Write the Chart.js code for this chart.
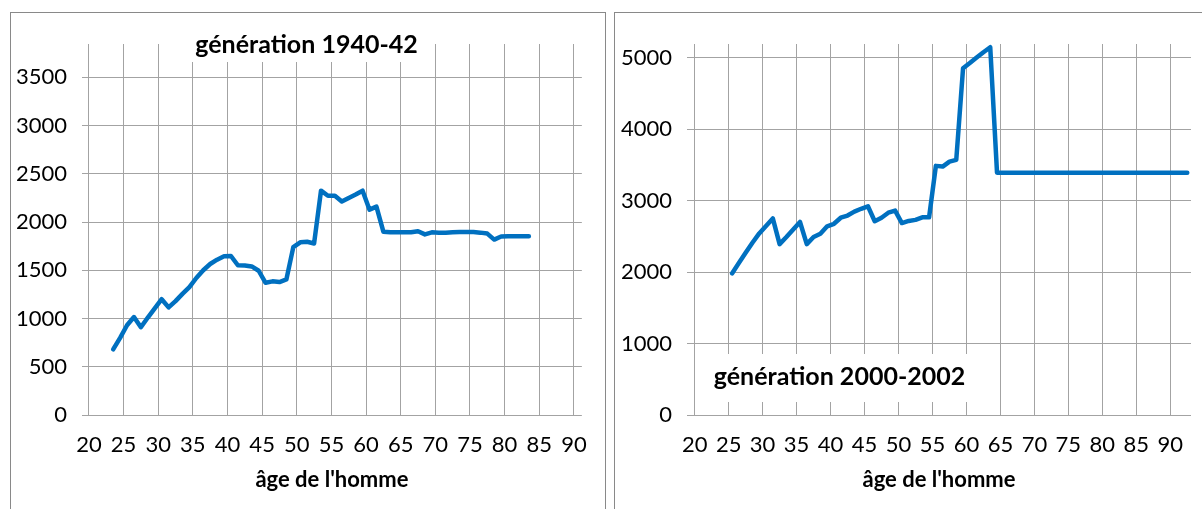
<!DOCTYPE html>
<html>
<head>
<meta charset="utf-8">
<script src="https://cdn.jsdelivr.net/npm/chart.js@4/dist/chart.umd.min.js"></script>
<style>
  html, body { margin: 0; padding: 0; background: #ffffff; overflow: hidden; }
  body { width: 1202px; height: 509px; position: relative; }
  .panel { position: absolute; box-sizing: border-box; border: 1px solid #898989; background: #ffffff; }
  #p1 { left: 10px; top: 12px; width: 596px; height: 600px; }
  #p2 { left: 614px; top: 12px; width: 700px; height: 600px; }
  canvas { position: absolute; top: 0; }
  #c1 { left: 0; }
  #c2 { left: 600px; }
</style>
</head>
<body>
<div class="panel" id="p1"></div>
<div class="panel" id="p2"></div>
<canvas id="c1" width="604" height="509"></canvas>
<canvas id="c2" width="602" height="509"></canvas>
<script>
// ---- data ----
const ages1940 = [23.5, 24.5, 25.5, 26.5, 27.5, 28.5, 29.5, 30.5, 31.5, 32.5,
  33.5, 34.5, 35.5, 36.5, 37.5, 38.5, 39.5, 40.5, 41.5, 42.5,
  43.5, 44.5, 45.5, 46.5, 47.5, 48.5, 49.5, 50.5, 51.5, 52.5,
  53.5, 54.5, 55.5, 56.5, 57.5, 58.5, 59.5, 60.5, 61.5, 62.5,
  63.5, 64.5, 65.5, 66.5, 67.5, 68.5, 69.5, 70.5, 71.5, 72.5,
  73.5, 74.5, 75.5, 76.5, 77.5, 78.5, 79.5, 80.5, 81.5, 82.5, 83.5];
const values1940 = [680, 800, 930, 1015, 910, 1010, 1105, 1200, 1115, 1180,
  1255, 1325, 1420, 1500, 1565, 1610, 1645, 1648, 1552, 1550,
  1540, 1495, 1370, 1385, 1378, 1405, 1740, 1790, 1795, 1778,
  2325, 2272, 2272, 2212, 2250, 2285, 2325, 2128, 2160, 1900,
  1893, 1893, 1893, 1895, 1905, 1872, 1893, 1890, 1890, 1895,
  1897, 1897, 1897, 1890, 1880, 1818, 1850, 1852, 1852, 1852, 1852];

const ages2000 = [25.5, 26.5, 27.5, 28.5, 29.5, 30.5, 31.5, 32.5, 33.5, 34.5,
  35.5, 36.5, 37.5, 38.5, 39.5, 40.5, 41.5, 42.5, 43.5, 44.5,
  45.5, 46.5, 47.5, 48.5, 49.5, 50.5, 51.5, 52.5, 53.5, 54.5,
  55.5, 56.5, 57.5, 58.5, 59.5, 60.5, 61.5, 62.5, 63.5, 64.5,
  65.5, 66.5, 67.5, 68.5, 69.5, 70.5, 71.5, 72.5, 73.5, 74.5,
  75.5, 76.5, 77.5, 78.5, 79.5, 80.5, 81.5, 82.5, 83.5, 84.5,
  85.5, 86.5, 87.5, 88.5, 89.5, 90.5, 91.5, 92.5];
const values2000 = [1980, 2125, 2270, 2410, 2540, 2645, 2750, 2390, 2490, 2595,
  2700, 2390, 2490, 2535, 2640, 2675, 2760, 2790, 2845, 2885,
  2920, 2710, 2760, 2830, 2860, 2685, 2715, 2730, 2765, 2765,
  3485, 3475, 3545, 3570, 4850, 4925, 5000, 5075, 5145, 3390,
  3390, 3390, 3390, 3390, 3390, 3390, 3390, 3390, 3390, 3390,
  3390, 3390, 3390, 3390, 3390, 3390, 3390, 3390, 3390, 3390,
  3390, 3390, 3390, 3390, 3390, 3390, 3390, 3390];

const xTicks = [20, 25, 30, 35, 40, 45, 50, 55, 60, 65, 70, 75, 80, 85, 90];
const yTicks1940 = [0, 500, 1000, 1500, 2000, 2500, 3000, 3500];
const yTicks2000 = [0, 1000, 2000, 3000, 4000, 5000];

const title1940 = 'génération 1940-42';
const title2000 = 'génération 2000-2002';
const xAxisTitle = "âge de l'homme";

// ---- styling ----
const FONT = 'Lato, "Open Sans", sans-serif';
const GRID = '#a3a3a3';
const LINE = '#0070C0';

function toPoints(xs, ys) { return xs.map((x, i) => ({ x: x, y: ys[i] })); }

const boxTitle = {
  id: 'boxTitle',
  afterDraw(chart, args, o) {
    const ctx = chart.ctx;
    ctx.save();
    ctx.fillStyle = '#ffffff';
    ctx.fillRect(o.box[0], o.box[1], o.box[2], o.box[3]);
    ctx.fillStyle = '#000000';
    ctx.font = 'bold 25px ' + FONT;
    ctx.textAlign = 'center';
    ctx.textBaseline = 'alphabetic';
    ctx.fillText(o.text, o.x, o.y);
    ctx.restore();
  }
};

function makeChart(id, xs, ys, yTicks, xMin, xMax, yMax, yWidth, padRight, titleOpts) {
  return new Chart(document.getElementById(id), {
    type: 'line',
    data: {
      datasets: [{
        data: toPoints(xs, ys),
        borderColor: LINE,
        borderWidth: 4.5,
        pointRadius: 0,
        pointHoverRadius: 0,
        tension: 0,
        fill: false,
        borderJoinStyle: 'round',
        borderCapStyle: 'round'
      }]
    },
    options: {
      responsive: false,
      animation: false,
      events: [],
      layout: { padding: { top: 44, right: padRight, left: 0, bottom: 0 } },
      plugins: {
        legend: { display: false },
        tooltip: { enabled: false },
        boxTitle: titleOpts
      },
      scales: {
        x: {
          type: 'linear',
          min: xMin,
          max: xMax,
          afterBuildTicks: s => { s.ticks = xTicks.map(v => ({ value: v })); },
          afterFit: s => { s.height = 94; },
          grid: { color: GRID, lineWidth: 1, drawTicks: false },
          border: { display: false },
          ticks: { color: '#000', font: { family: FONT, size: 22 }, padding: 17, maxRotation: 0, autoSkip: false,
                   callback: v => String(v) },
          title: { display: true, text: xAxisTitle, color: '#000', font: { family: FONT, size: 22, weight: 'bold' }, padding: { top: 0, bottom: 16 } }
        },
        y: {
          type: 'linear',
          min: 0,
          max: yMax,
          afterBuildTicks: s => { s.ticks = yTicks.map(v => ({ value: v })); },
          afterFit: s => { s.width = yWidth; },
          grid: { color: GRID, lineWidth: 1, drawTicks: false },
          border: { display: false },
          ticks: { color: '#000', font: { family: FONT, size: 22 }, padding: 15, callback: v => String(v) }
        }
      }
    },
    plugins: [boxTitle]
  });
}

makeChart('c1', ages1940, values1940, yTicks1940, 19.0, 91.15, 3845, 82, 22,
  { text: title1940, x: 306.5, y: 52.5, box: [185, 24, 243, 38] });
makeChart('c2', ages2000, values2000, yTicks2000, 18.87, 93.05, 5190, 87, 11,
  { text: title2000, x: 239.5, y: 384.5, box: [104, 354, 274, 48] });
</script>
</body>
</html>
